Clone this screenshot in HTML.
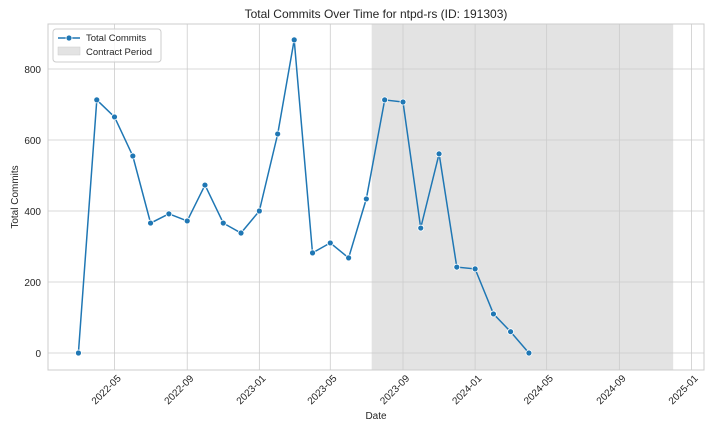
<!DOCTYPE html>
<html><head><meta charset="utf-8"><style>
body{margin:0;background:#fff;font-family:"Liberation Sans",sans-serif;}
svg text{font-family:"Liberation Sans",sans-serif;fill:#262626;}
</style></head><body>
<svg id="chart" width="720" height="432"></svg>
<script>
const months=["2022-03","2022-04","2022-05","2022-06","2022-07","2022-08","2022-09","2022-10","2022-11","2022-12","2023-01","2023-02","2023-03","2023-04","2023-05","2023-06","2023-07","2023-08","2023-09","2023-10","2023-11","2023-12","2024-01","2024-02","2024-03","2024-04"];
const commits=[0,713,665,555,366,392,372,473,366,338,400,617,882,282,310,268,434,713,707,352,561,242,237,110,60,0];
const xTicks=["2022-05","2022-09","2023-01","2023-05","2023-09","2024-01","2024-05","2024-09","2025-01"];
const yTicks=[0,200,400,600,800];
const contract=["2023-07-10","2024-12-01"];

const L=48,R=704,T=24,B=370;
const NS="http://www.w3.org/2000/svg";
const svg=document.getElementById('chart');
const day=s=>{const p=s.split('-');return Date.UTC(+p[0],+p[1]-1,p[2]?+p[2]:1)/864e5;};
const x0=day("2022-05"),pxd=577/(day("2025-01")-x0);
const X=s=>114.5+(day(s)-x0)*pxd;
const Y=v=>353-v*0.355;
function el(t,a,p){const e=document.createElementNS(NS,t);for(const k in a)e.setAttribute(k,a[k]);(p||svg).appendChild(e);return e;}

let r=el('rect',{x:X(contract[0]),y:T,width:X(contract[1])-X(contract[0]),height:B-T,fill:'#e3e3e3'});



yTicks.forEach(v=>{
  let g=el('line',{x1:L,x2:R,y1:Y(v),y2:Y(v),stroke:'#cccccc','stroke-width':0.8});
  
  
  let t=el('text',{x:L-7,y:Y(v)+4,'text-anchor':'end','font-size':10});
  t.textContent=v;
  
  
});
xTicks.forEach(s=>{
  const x=X(s);
  let g=el('line',{x1:x,x2:x,y1:T,y2:B,stroke:'#cccccc','stroke-width':0.8});
  
  
  let t=el('text',{x:x+7,y:B+9,'text-anchor':'end','font-size':10,transform:`rotate(-45 ${x+7} ${B+9})`});
  t.textContent=s;
  
  
});
let fr=el('rect',{x:L,y:T,width:R-L,height:B-T,fill:'none',stroke:'#cccccc','stroke-width':1});



let pts=months.map((m,i)=>X(m).toFixed(1)+','+Y(commits[i]).toFixed(1)).join(' ');
let ln=el('polyline',{points:pts,fill:'none',stroke:'#1f77b4','stroke-width':1.5});


months.forEach((m,i)=>{
  let c=el('circle',{cx:X(m),cy:Y(commits[i]),r:3,fill:'#1f77b4',stroke:'#fff','stroke-width':0.8});
  
  
});

let tt=el('text',{x:(L+R)/2,y:18,'text-anchor':'middle','font-size':12});
tt.textContent='Total Commits Over Time for ntpd-rs (ID: 191303)';


let xt=el('text',{x:(L+R)/2,y:419,'text-anchor':'middle','font-size':10});
xt.textContent='Date';


let yt=el('text',{x:18,y:(T+B)/2,'text-anchor':'middle','font-size':10,transform:`rotate(-90 18 ${(T+B)/2})`});
yt.textContent='Total Commits';



let lg=el('g',{});


el('rect',{x:53,y:29,width:108,height:33,rx:3,fill:'#fff','fill-opacity':0.8,stroke:'#cccccc'},lg);
el('line',{x1:58,x2:80,y1:38,y2:38,stroke:'#1f77b4','stroke-width':1.5},lg);
el('circle',{cx:69,cy:38,r:3,fill:'#1f77b4',stroke:'#fff','stroke-width':0.8},lg);
let l1=el('text',{x:86,y:41,'font-size':9.5},lg);l1.textContent='Total Commits';


el('rect',{x:58,y:47,width:22,height:8,fill:'#e3e3e3',stroke:'#cccccc','stroke-width':0.5},lg);
let l2=el('text',{x:86,y:55,'font-size':9.5},lg);l2.textContent='Contract Period';


</script>
</body></html>
